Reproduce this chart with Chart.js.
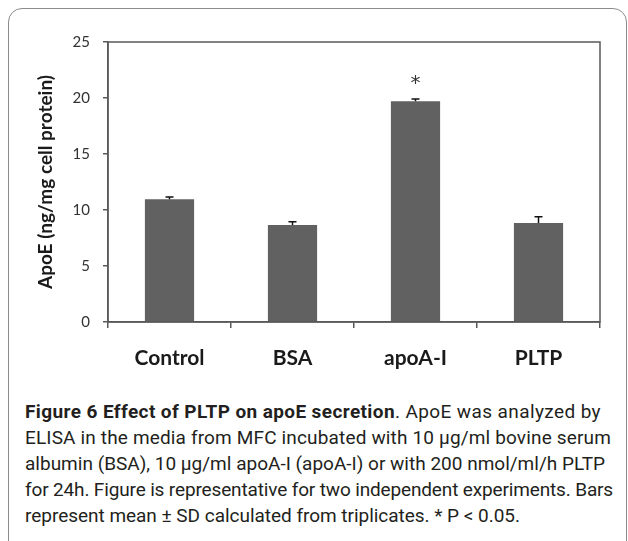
<!DOCTYPE html>
<html>
<head>
<meta charset="utf-8">
<script src="https://cdn.jsdelivr.net/npm/chart.js@4"></script>
<style>
    body { margin: 0; background: #fff; width: 628px; height: 541px; overflow: hidden; position: relative; }
    #frame { position: absolute; left: 8px; top: 8px; width: 617px; height: 620px; border: 1px solid #8c8c8c; border-radius: 14px; }
    #chart { position: absolute; left: 0; top: 0; }
    #caption { position: absolute; left: 25px; top: 399px; width: 600px; font: 19px Roboto, sans-serif; color: #231f20; line-height: 26px; }
    #caption .ln { display: block; }
    #caption .ln span { display: inline-block; white-space: nowrap; }
</style>
</head>
<body>
<div id="frame"></div>
<canvas id="chart" width="628" height="375"></canvas>
<div id="caption">
    <div class="ln" data-w="576"><span><b>Figure 6 Effect of PLTP on apoE secretion</b>. ApoE was analyzed by</span></div>
    <div class="ln" data-w="586"><span>ELISA in the media from MFC incubated with 10 µg/ml bovine serum</span></div>
    <div class="ln" data-w="580"><span>albumin (BSA), 10 µg/ml apoA-I (apoA-I) or with 200 nmol/ml/h PLTP</span></div>
    <div class="ln" data-w="588"><span>for 24h. Figure is representative for two independent experiments. Bars</span></div>
    <div class="ln" data-w="495"><span>represent mean ± SD calculated from triplicates. * P &lt; 0.05.</span></div>
</div>
<script>
    const categories = ['Control', 'BSA', 'apoA-I', 'PLTP'];
    const apoEMeans = [10.95, 8.65, 19.7, 8.85];
    const apoESd = [0.2, 0.3, 0.2, 0.55];
    const significant = [false, false, true, false];
    const yTicks = [0, 5, 10, 15, 20, 25];

    const axisColor = '#595959';

    // squeeze or stretch each caption line to the width it has in the figure
    document.querySelectorAll('#caption .ln').forEach(function (line) {
        const span = line.querySelector('span');
        const target = Number(line.dataset.w);
        const natural = span.getBoundingClientRect().width;
        const count = span.textContent.length;
        span.style.letterSpacing = ((target - natural) / count).toFixed(3) + 'px';
    });

    // upward-only error bars plus the significance star
    const errorBars = {
        id: 'errorBars',
        afterDatasetsDraw(chart) {
            const ctx = chart.ctx;
            const y = chart.scales.y;
            const bars = chart.getDatasetMeta(0).data;
            ctx.save();
            ctx.strokeStyle = '#111';
            ctx.lineWidth = 1.5;
            bars.forEach(function (bar, i) {
                const top = y.getPixelForValue(apoEMeans[i] + apoESd[i]);
                const base = y.getPixelForValue(apoEMeans[i]);
                ctx.beginPath();
                ctx.moveTo(bar.x, base);
                ctx.lineTo(bar.x, top);
                ctx.moveTo(bar.x - 4, top);
                ctx.lineTo(bar.x + 4, top);
                ctx.stroke();
                if (significant[i]) {
                    ctx.fillStyle = '#333';
                    ctx.font = '20px "DejaVu Sans"';
                    ctx.textAlign = 'center';
                    ctx.textBaseline = 'middle';
                    ctx.fillText('*', bar.x, top - 15);
                }
            });
            ctx.restore();
        },
    };

    // closed box round the plot area
    const plotBox = {
        id: 'plotBox',
        afterDraw(chart) {
            const a = chart.chartArea;
            const ctx = chart.ctx;
            ctx.save();
            ctx.strokeStyle = axisColor;
            ctx.lineWidth = 1.5;
            ctx.strokeRect(a.left, a.top, a.right - a.left, a.bottom - a.top);
            ctx.restore();
        },
    };

    new Chart(document.getElementById('chart'), {
        type: 'bar',
        data: {
            labels: categories,
            datasets: [
                {
                    label: 'ApoE',
                    data: apoEMeans,
                    backgroundColor: '#616161',
                    borderWidth: 0,
                    barPercentage: 0.4,
                    categoryPercentage: 1,
                },
            ],
        },
        options: {
            responsive: false,
            devicePixelRatio: 1,
            animation: false,
            layout: {
                padding: { left: 20, top: 42, right: 28, bottom: 0 },
            },
            plugins: {
                legend: { display: false },
                tooltip: { enabled: false },
            },
            scales: {
                x: {
                    afterFit: function (scale) { scale.height = 53; },
                    border: { color: axisColor, width: 1.5 },
                    grid: {
                        offset: true,
                        drawOnChartArea: false,
                        tickLength: 6,
                        color: axisColor,
                        lineWidth: 1.5,
                    },
                    ticks: {
                        padding: 18,
                        color: '#1a1a1a',
                        font: { family: 'Lato', size: 21, weight: 'bold' },
                    },
                },
                y: {
                    min: 0,
                    max: 25,
                    afterFit: function (scale) { scale.width = 88; },
                    afterBuildTicks: function (scale) {
                        scale.ticks = yTicks.map(v => ({ value: v }));
                    },
                    border: { color: axisColor, width: 1.5 },
                    grid: {
                        drawOnChartArea: false,
                        tickLength: 5,
                        color: axisColor,
                        lineWidth: 1.5,
                    },
                    ticks: {
                        padding: 13,
                        color: '#333',
                        font: { family: 'Lato', size: 15 },
                    },
                    title: {
                        display: true,
                        text: 'ApoE (ng/mg cell protein)',
                        color: '#1a1a1a',
                        font: { family: 'Lato', size: 19, weight: 'bold' },
                        padding: { top: 14, bottom: 0 },
                    },
                },
            },
        },
        plugins: [errorBars, plotBox],
    });
</script>
</body>
</html>
